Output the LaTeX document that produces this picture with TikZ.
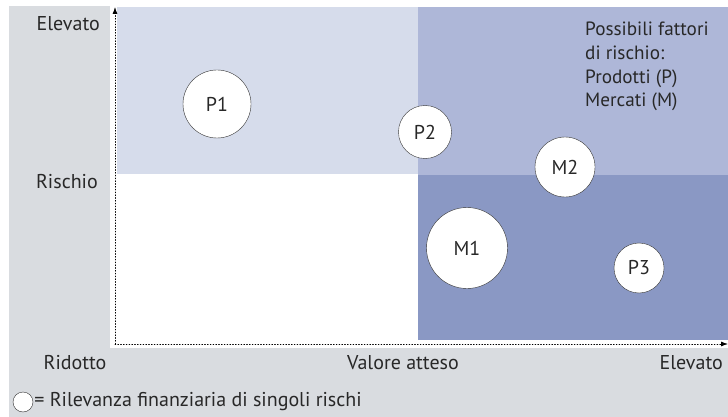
\documentclass[tikz,border=0pt]{standalone}
\usepackage{fontspec}
\setmainfont{PT Sans}
\usetikzlibrary{arrows.meta}

\definecolor{bggray}{RGB}{217,220,224}
\definecolor{blueA}{RGB}{214,220,235}
\definecolor{blueB}{RGB}{174,183,216}
\definecolor{blueC}{RGB}{138,152,196}
\definecolor{txtgray}{RGB}{40,40,40}

\tikzset{
  risk/.style={circle, draw=black!80, thin, fill=white, inner sep=0pt, text=txtgray, font=\fontsize{20}{24}\selectfont},
  lbl/.style={inner sep=0pt, text=txtgray, font=\fontsize{20}{24}\selectfont},
  axis/.style={thick, dotted, -{Latex[length=7pt,width=5pt]}, line cap=round}
}

\begin{document}
\begin{tikzpicture}[x=1pt,y=-1pt]
\useasboundingbox (0,0) rectangle (728,417);

%background
\fill[white] (0,0) rectangle (728,417);
\fill[bggray] (9,6) rectangle (728,417);
\fill[white] (110,6) rectangle (728,348);

%fields
\fill[blueA] (117,7) rectangle (418,174);
\fill[blueB] (418,7) rectangle (728,175);
\fill[blueC] (418,175) rectangle (728,340);

%axes
\coordinate (o) at (115,344);
\coordinate (ytop) at (115,7);
\coordinate (xend) at (728,344);
\draw[axis] (o) -- (ytop);
\draw[axis] (o) -- (xend);

\node[lbl, anchor=east] (yhigh) at (100,24) {Elevato};
\node[lbl, anchor=east] (ylab) at (98,182) {Rischio};
\node[lbl] (xlow) at (75,363) {Ridotto};
\node[lbl] (xlab) at (403,363) {Valore atteso};
\node[lbl, anchor=east] (xhigh) at (723,363) {Elevato};

%risks
\node[risk, minimum size=68pt] (p1) at (217,104) {P1};
\node[risk, minimum size=53pt] (p2) at (425,132) {P2};
\node[risk, minimum size=60pt] (m2) at (565,167) {M2};
\node[risk, minimum size=81pt] (m1) at (467,248) {M1};
\node[risk, minimum size=50pt] (p3) at (639,268) {P3};

%factors
\node[lbl, anchor=north west, align=left, font=\fontsize{19.2}{23.7}\selectfont] (fact) at (585,22)
  {Possibili fattori\\di rischio:\\Prodotti (P)\\Mercati (M)};

%legend
\node[circle, draw=black!80, thin, fill=white, minimum size=20pt, inner sep=0pt] (legc) at (23,402) {};
\node[lbl, anchor=west] (leg) at ([xshift=1pt]legc.east) {= Rilevanza finanziaria di singoli rischi};

\end{tikzpicture}
\end{document}
